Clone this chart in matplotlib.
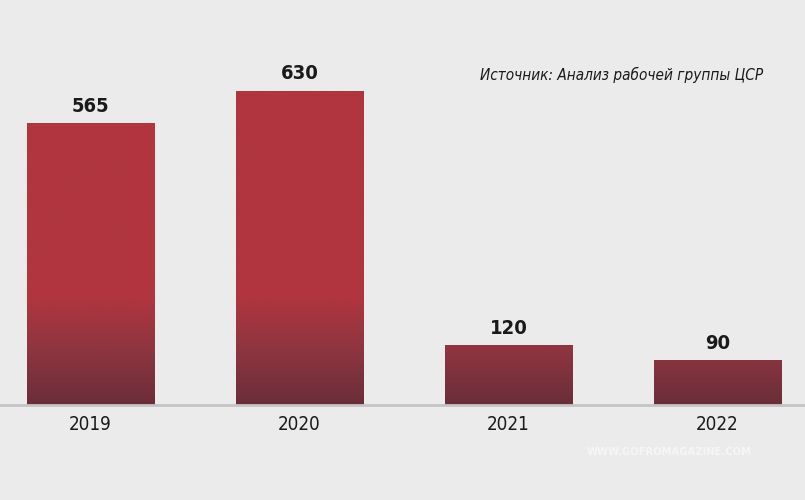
import numpy as np
import matplotlib.pyplot as plt
from matplotlib.colors import LinearSegmentedColormap

years = ["2019", "2020", "2021", "2022"]
values = [565, 630, 120, 90]
source = "Источник: Анализ рабочей группы ЦСР"

bg = "#ebebeb"
cmap = LinearSegmentedColormap.from_list("bar", ["#6a2e39", "#8d3540", "#b0353f"])

fig = plt.figure(figsize=(8.05, 5), dpi=100, facecolor=bg)
ax = fig.add_axes([0, 0, 1, 1])
ax.set_facecolor(bg)
px = 0.4985
ax.axis("off")

font = dict(family="DejaVu Sans", fontstretch="condensed")
width = 0.608
top = 700
ys = np.linspace(0, top, 512)
grad = np.clip(ys / 215, 0, 1).reshape(-1, 1)
for i, v in enumerate(values):
    bar = ax.bar(i, v, width=width, color="none", edgecolor="none")[0]
    im = ax.imshow(grad, cmap=cmap, origin="lower", aspect="auto",
                   extent=(i - width / 2, i + width / 2, 0, top), vmin=0, vmax=1)
    im.set_clip_path(bar)
    ax.text(i, v + 17 / px, str(v), ha="center", va="center", fontsize=14.5,
            fontweight="bold", color="#1a1a1a", **font)
    ax.text(i, -20 / px, years[i], ha="center", va="center", fontsize=13.5,
            color="#1a1a1a", **font)

ax.set_xlim(-0.433, 3.419)
ax.set_ylim(-95 / px, 405 / px)
ax.axhline(0, color="#c4c4c4", lw=2, zorder=5)
ax.text(3.22, 330 / px, source, ha="right", va="center", fontsize=11,
        style="italic", color="#1a1a1a", **font)
ax.text(2.77, -47 / px, "WWW.GOFROMAGAZINE.COM", ha="center", va="center",
        fontsize=8, fontweight="bold", color="#f6f6f6", **font)

fig.savefig("out.png", dpi=100, facecolor=bg)
